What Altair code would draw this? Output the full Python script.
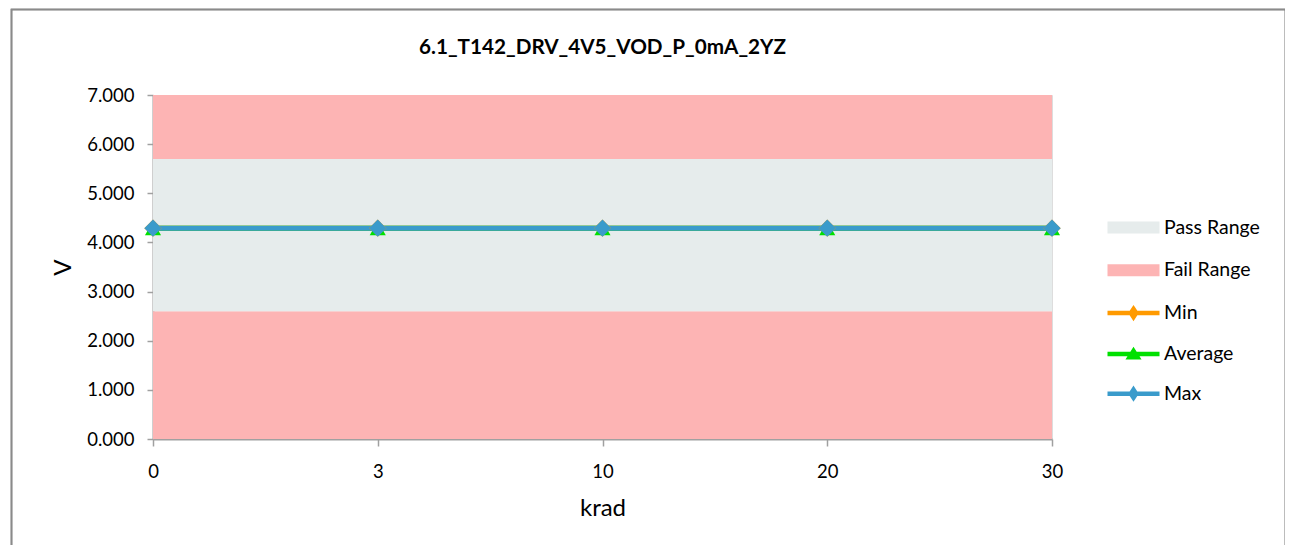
import altair as alt
import pandas as pd

# ---- data ----
krad = ["0", "3", "10", "20", "30"]
min_vals = [4.29, 4.29, 4.29, 4.29, 4.29]
avg_vals = [4.29, 4.29, 4.29, 4.29, 4.29]
max_vals = [4.29, 4.29, 4.29, 4.29, 4.29]

band_names = ["Fail Range", "Pass Range", "Fail Range"]
band_lo = [0.0, 2.6, 5.7]
band_hi = [2.6, 5.7, 7.0]

y_ticks = [0, 1, 2, 3, 4, 5, 6, 7]

legend_names = ["Pass Range", "Fail Range", "Min", "Average", "Max"]

# ---- styling ----
FONT = "Lato"
PASS_C = "#E6ECEC"
FAIL_C = "#FDB4B4"
MIN_C = "#FF9A00"
AVG_C = "#00E000"
MAX_C = "#3A9BCB"
AXIS_C = "#A0A0A0"
W, H = 899, 344
TICK_FS = 18.5

rows = []
for name, vals in [("Min", min_vals), ("Average", avg_vals), ("Max", max_vals)]:
    for k, v in zip(krad, vals):
        rows.append({"krad": k, "series": name, "value": v})
df = pd.DataFrame(rows)
bands = pd.DataFrame({"band": band_names, "lo": band_lo, "hi": band_hi})
legend_df = pd.DataFrame({"name": legend_names})

x_enc = alt.X(
    "krad:O", sort=krad,
    scale=alt.Scale(type="point", padding=0),
    axis=alt.Axis(
        title="krad", labelAngle=0, labelFont=FONT, labelFontSize=TICK_FS, labelColor="black",
        labelBaseline="alphabetic", labelPadding=31, tickSize=7, tickColor=AXIS_C, tickWidth=1.5,
        domainColor=AXIS_C, domainWidth=2, titleFont=FONT, titleFontSize=24,
        titleFontWeight="normal", titleColor="black", titleX=W / 2, titleY=76,
        titleBaseline="alphabetic", titleAlign="center", grid=False,
    ),
)
y_axis = alt.Axis(
    title="V", values=y_ticks, format=".3f", labelFont=FONT, labelFontSize=TICK_FS,
    labelColor="black", labelPadding=13, tickSize=6, tickColor=AXIS_C, tickWidth=1.5,
    domainColor=AXIS_C, domainWidth=2, titleFont=FONT, titleFontSize=24,
    titleFontWeight="normal", titleColor="black", titleX=-90, titleY=H / 2,
    titleAngle=270, titleAlign="center", titleBaseline="middle", grid=False,
)
y_scale = alt.Scale(domain=[0, 7], nice=False, zero=False)

band_layer = alt.Chart(bands).mark_rect().encode(
    x=alt.value(0), x2=alt.value("width"),
    y=alt.Y("lo:Q", scale=y_scale, axis=y_axis), y2="hi:Q",
    color=alt.Color("band:N", scale=alt.Scale(domain=["Pass Range", "Fail Range"],
                                              range=[PASS_C, FAIL_C]), legend=None),
)

frame = alt.Chart(bands).mark_rect(fill=None, stroke="#8A8A8A", strokeWidth=1.5).encode(
    x=alt.value(-141.5), x2=alt.value(1132.5), y=alt.value(-85.5), y2=alt.value(470),
)

series_style = [
    ("Min", MIN_C, "diamond", 300),
    ("Average", AVG_C, "triangle-up", 260),
    ("Max", MAX_C, "diamond", 300),
]
line_layers = []
point_layers = []
for name, c, shp, sz in series_style:
    base = alt.Chart(df).transform_filter(alt.datum.series == name)
    line_layers.append(base.mark_line(color=c, strokeWidth=5).encode(
        x=x_enc, y=alt.Y("value:Q", scale=y_scale, axis=y_axis)))
    point_layers.append(base.mark_point(shape=shp, filled=True, size=sz, color=c, opacity=1).encode(
        x=x_enc, y=alt.Y("value:Q", scale=y_scale, axis=y_axis)))

rect_path = "M-1.3,-0.3H1.3V0.3H-1.3Z"
dia_path = "M-1.3,0H1.3M0,-0.2L0.13,0L0,0.2L-0.13,0Z"
tri_path = "M-1.3,0H1.3M0,-0.15L0.2,0.17L-0.2,0.17Z"
L = alt.Legend(
    title=None, orient="none", legendX=958, legendY=110, symbolSize=1600,
    symbolStrokeWidth=4.5, labelFont=FONT, labelFontSize=19.5, labelColor="black",
    labelOffset=8, rowPadding=4.8, symbolOpacity=1,
)
legend_layer = alt.Chart(legend_df).transform_filter("false").mark_point(
    filled=True, strokeWidth=4.5, opacity=1
).encode(
    fill=alt.Fill("name:N", scale=alt.Scale(domain=legend_names,
                                            range=[PASS_C, FAIL_C, MIN_C, AVG_C, MAX_C]), legend=L),
    stroke=alt.Stroke("name:N", scale=alt.Scale(domain=legend_names,
                                                range=["transparent", "transparent", MIN_C, AVG_C, MAX_C]), legend=L),
    shape=alt.Shape("name:N", scale=alt.Scale(domain=legend_names,
                                              range=[rect_path, rect_path, dia_path, tri_path, dia_path]), legend=L),
)

chart = alt.layer(
    band_layer, frame, *line_layers, *point_layers, legend_layer
).properties(
    width=W, height=H,
    title=alt.TitleParams(
        "6.1_T142_DRV_4V5_VOD_P_0mA_2YZ", font=FONT, fontSize=20.7, fontWeight="bold",
        color="black", anchor="middle", frame="group", baseline="alphabetic", offset=29, dy=95,
    ),
    autosize=alt.AutoSizeParams(type="none"),
    padding={"left": 145, "top": 87, "right": 233, "bottom": 106},
).configure_view(stroke=None).configure(background="white")

chart.save("out.html", embed_options={"renderer": "svg", "actions": False})
